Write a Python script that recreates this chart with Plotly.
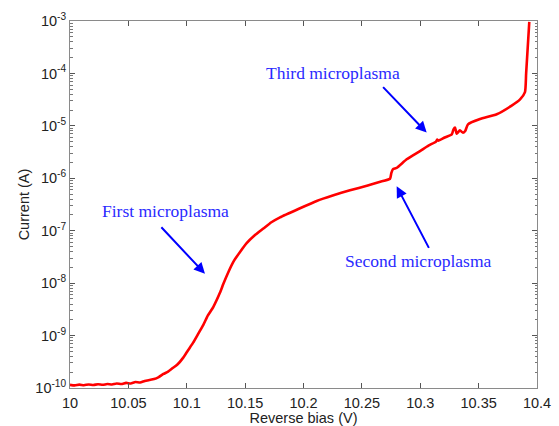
import math
import plotly.graph_objects as go

# Reverse bias (V) and current (A)
bias = [10.000, 10.004, 10.008, 10.012, 10.016, 10.020, 10.024, 10.028, 10.032, 10.036,
        10.040, 10.044, 10.048, 10.052, 10.056, 10.060, 10.064, 10.068, 10.072, 10.076,
        10.080, 10.084, 10.088, 10.092, 10.097, 10.101, 10.1056, 10.110, 10.1142, 10.118,
        10.1227, 10.1285, 10.1313, 10.1355, 10.1399, 10.1455, 10.1513, 10.158, 10.1656, 10.1725,
        10.1799, 10.1956, 10.2113, 10.225, 10.2398, 10.255, 10.265, 10.2741, 10.2752, 10.2765,
        10.2798, 10.2884, 10.2998, 10.307, 10.3135, 10.3145, 10.3155, 10.321, 10.327, 10.3285,
        10.3298, 10.3312, 10.334, 10.3366, 10.3385, 10.3409, 10.3512, 10.3655, 10.378, 10.3855,
        10.3897, 10.3907, 10.3934]
current = [1.15e-10, 1.12e-10, 1.16e-10, 1.13e-10, 1.17e-10, 1.14e-10, 1.18e-10, 1.15e-10, 1.19e-10, 1.17e-10,
           1.22e-10, 1.19e-10, 1.25e-10, 1.22e-10, 1.30e-10, 1.27e-10, 1.36e-10, 1.42e-10, 1.48e-10, 1.62e-10,
           1.85e-10, 2.05e-10, 2.40e-10, 2.80e-10, 3.80e-10, 5.20e-10, 7.40e-10, 1.10e-9, 1.60e-9, 2.40e-9,
           3.50e-9, 6.60e-9, 9.60e-9, 1.60e-8, 2.55e-8, 3.90e-8, 5.80e-8, 8.10e-8, 1.10e-7, 1.45e-7,
           1.80e-7, 2.60e-7, 3.70e-7, 4.70e-7, 5.90e-7, 7.30e-7, 8.50e-7, 9.80e-7, 1.25e-6, 1.48e-6,
           1.58e-6, 2.30e-6, 3.30e-6, 4.20e-6, 5.00e-6, 5.50e-6, 5.20e-6, 6.00e-6, 6.90e-6, 8.60e-6,
           9.30e-6, 7.10e-6, 8.20e-6, 7.40e-6, 8.00e-6, 1.07e-5, 1.35e-5, 1.66e-5, 2.40e-5, 3.20e-5,
           4.40e-5, 1.00e-4, 9.60e-4]

x_ticks = [10, 10.05, 10.1, 10.15, 10.2, 10.25, 10.3, 10.35, 10.4]
x_labels = ["10", "10.05", "10.1", "10.15", "10.2", "10.25", "10.3", "10.35", "10.4"]
y_exps = [-10, -9, -8, -7, -6, -5, -4, -3]
y_ticks = [10.0 ** e for e in y_exps]
y_labels = ["10<sup>%d</sup>" % e for e in y_exps]
y_minor = [m * 10.0 ** e for e in y_exps[:-1] for m in range(2, 10)]

labels = ["First microplasma", "Second microplasma", "Third microplasma"]
label_pos = [(10.0822, 2.43e-7), (10.2981, 2.65e-8), (10.2253, 1.04e-4)]
arrow_head = [(10.1156, 1.51e-8), (10.2798, 7.02e-7), (10.3055, 7.43e-6)]
arrow_tail_px = [(-45, -48), (33, 63), (-45, -47)]

fig = go.Figure()
fig.add_trace(go.Scatter(x=bias, y=current, mode="lines",
                         line=dict(color="#ff0000", width=2.6, shape="spline", smoothing=0.5),
                         showlegend=False))

for (tx, ty), t in zip(label_pos, labels):
    fig.add_annotation(x=tx, y=math.log10(ty), text=t, showarrow=False,
                       font=dict(family="Liberation Serif", size=17.5, color="#2a2aff"))
for (hx, hy), (ax, ay) in zip(arrow_head, arrow_tail_px):
    fig.add_annotation(x=hx, y=math.log10(hy), text="", showarrow=True,
                       ax=ax, ay=ay, arrowhead=2, arrowsize=1.1, arrowwidth=2,
                       arrowcolor="#0000ff", standoff=0)

axis_font = dict(family="Liberation Sans", size=14.5, color="#222222")
title_font = dict(family="Liberation Sans", size=14.5, color="#222222")
fig.update_layout(
    width=559, height=426,
    margin=dict(l=70, r=22, t=21, b=38),
    paper_bgcolor="white", plot_bgcolor="white",
    font=axis_font,
    xaxis=dict(range=[10, 10.4], tickmode="array", tickvals=x_ticks, ticktext=x_labels,
               ticks="inside", ticklen=5, tickcolor="#555555", showgrid=False, zeroline=False,
               showline=True, linecolor="#8a8a8a", linewidth=1, mirror="ticks",
               ticklabelstandoff=2, automargin=False,
               title=dict(text="Reverse bias (V)", standoff=0, font=title_font),
               tickfont=axis_font),
    yaxis=dict(type="log", range=[-10, -3], tickmode="array", tickvals=y_ticks, ticktext=y_labels,
               ticks="inside", ticklen=5, tickcolor="#555555", showgrid=False, zeroline=False,
               showline=True, linecolor="#8a8a8a", linewidth=1, mirror="ticks",
               automargin=False,
               minor=dict(tickmode="array", tickvals=y_minor, ticks="inside", ticklen=2.5,
                          tickcolor="#777777", showgrid=False),
               title=dict(text="Current (A)", standoff=2, font=title_font),
               tickfont=axis_font),
)

fig.write_html("out.html")
